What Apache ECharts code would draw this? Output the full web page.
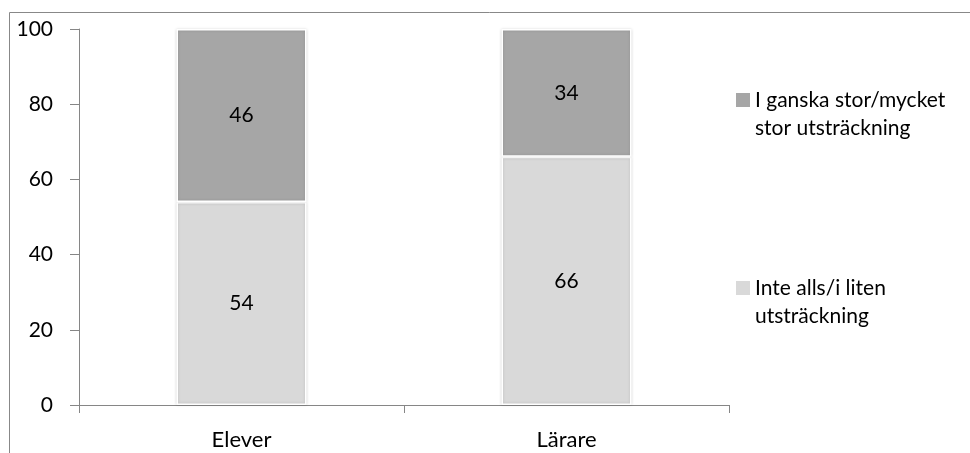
<!DOCTYPE html>
<html>
<head>
<meta charset="utf-8">
<script src="https://cdn.jsdelivr.net/npm/echarts@6/dist/echarts.min.js"></script>
<style>
html,body{margin:0;padding:0;background:#fff;}
#chart{width:970px;height:453px;}
</style>
</head>
<body>
<div id="chart"></div>
<script>
var categories = ["Elever", "Lärare"];
var seriesLowName = "Inte alls/i liten utsträckning";
var seriesHighName = "I ganska stor/mycket stor utsträckning";
var lowValues = [54, 66];
var highValues = [46, 34];
var yTicks = [0, 20, 40, 60, 80, 100];

var FONT = "Lato, 'Open Sans', sans-serif";
var chart = echarts.init(document.getElementById('chart'), null, {renderer: 'canvas'});
var legendFormatter = function (name) {
  if (name === seriesHighName) return "I ganska stor/mycket\nstor utsträckning";
  return "Inte alls/i liten\nutsträckning";
};
// square icon at the top of a tall item, so it lines up with the first text line
var ICON = 'path://M0,0L14,0L14,14L0,14Z M0,42L0.01,42L0,42Z';
var legendText = {fontFamily: FONT, fontSize: 21, color: '#000', lineHeight: 28};
chart.setOption({
  animation: false,
  backgroundColor: '#fff',
  graphic: [
    {type: 'line', shape: {x1: 9.5, y1: 12.5, x2: 970, y2: 12.5}, style: {stroke: '#888', lineWidth: 1}},
    {type: 'line', shape: {x1: 9.5, y1: 12.5, x2: 9.5, y2: 453}, style: {stroke: '#888', lineWidth: 1}}
  ],
  legend: [
    {
      data: [{name: seriesHighName, icon: ICON, itemStyle: {borderWidth: 0, shadowBlur: 0}}],
      orient: 'vertical', left: 736, top: 86,
      itemWidth: 14, itemHeight: 42, itemGap: 4, padding: 0,
      formatter: legendFormatter, textStyle: legendText, selectedMode: false
    },
    {
      data: [{name: seriesLowName, icon: ICON, itemStyle: {borderWidth: 0, shadowBlur: 0}}],
      orient: 'vertical', left: 736, top: 274,
      itemWidth: 14, itemHeight: 42, itemGap: 4, padding: 0,
      formatter: legendFormatter, textStyle: legendText, selectedMode: false
    }
  ],
  grid: {left: 79, right: 241, top: 29, bottom: 48, containLabel: false},
  xAxis: {
    type: 'category',
    data: categories,
    axisLine: {show: true, lineStyle: {color: '#868686', width: 1}},
    axisTick: {show: true, length: 8, lineStyle: {color: '#868686'}},
    axisLabel: {fontFamily: FONT, fontSize: 22, color: '#000', margin: 24}
  },
  yAxis: {
    type: 'value',
    min: yTicks[0], max: yTicks[yTicks.length - 1], interval: 20,
    axisLine: {show: true, lineStyle: {color: '#868686', width: 1}},
    axisTick: {show: true, length: 9, lineStyle: {color: '#868686'}},
    axisLabel: {fontFamily: FONT, fontSize: 21, color: '#000', margin: 26},
    splitLine: {show: false}
  },
  series: [
    {
      name: seriesLowName, type: 'bar', stack: 'total', data: lowValues,
      barWidth: '40%',
      itemStyle: {color: '#d9d9d9', borderColor: '#fff', borderWidth: 1.5,
        shadowBlur: 3, shadowColor: 'rgba(0,0,0,0.15)'},
      label: {show: true, position: 'inside', fontFamily: FONT, fontSize: 21, color: '#000'}
    },
    {
      name: seriesHighName, type: 'bar', stack: 'total', data: highValues,
      barWidth: '40%',
      itemStyle: {color: '#a6a6a6', borderColor: '#fff', borderWidth: 1.5,
        shadowBlur: 3, shadowColor: 'rgba(0,0,0,0.15)'},
      label: {show: true, position: 'inside', fontFamily: FONT, fontSize: 21, color: '#000'}
    }
  ]
});
</script>
</body>
</html>
